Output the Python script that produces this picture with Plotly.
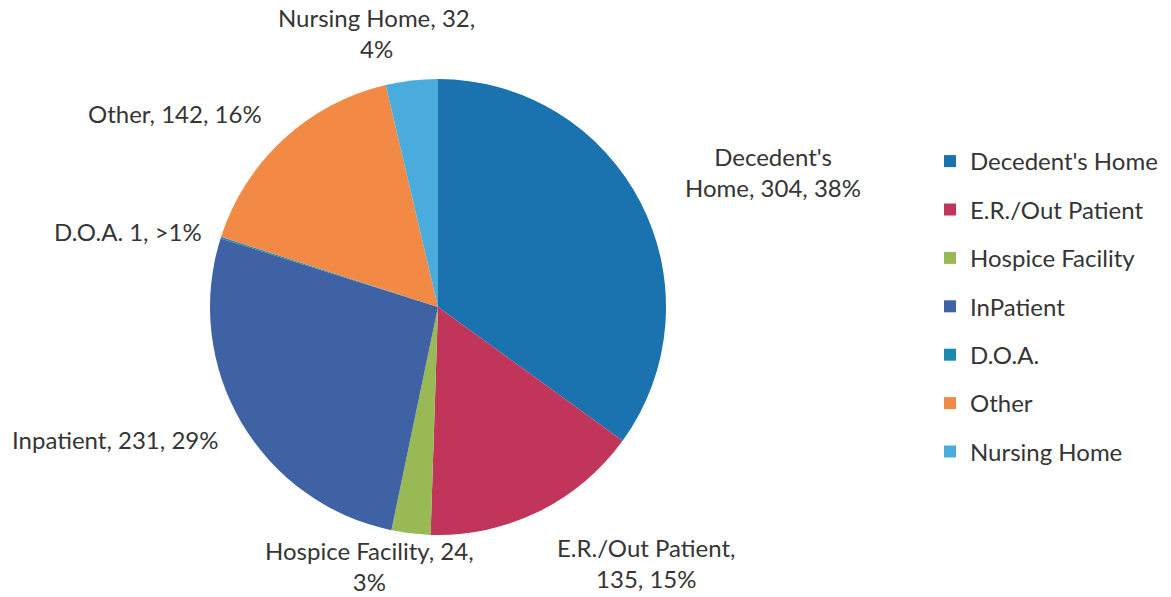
import math
import plotly.graph_objects as go

# ---- data ----
categories = ["Decedent's Home", "E.R./Out Patient", "Hospice Facility", "InPatient",
              "D.O.A.", "Other", "Nursing Home"]
values = [304, 135, 24, 231, 1, 142, 32]
label_names = ["Decedent's<br>Home", "E.R./Out Patient,<br>", "Hospice Facility, 24,<br>",
               "Inpatient", "D.O.A. 1", "Other", "Nursing Home, 32,<br>"]
label_values = ["304", "135", "", "231", "", "142", ""]
pct_labels = ["38%", "15%", "3%", "29%", ">1%", "16%", "4%"]
colors = ["#1A72AE", "#C1355A", "#98B954", "#3E62A4", "#1A8AAF", "#F28A45", "#4AACDD"]

W, H = 1171, 597
cx, cy, R = 438, 307, 228  # pie centre / radius in pixels

# label text composition
texts = []
for n, v, p in zip(label_names, label_values, pct_labels):
    if n.endswith("<br>"):
        texts.append(n + (v + ", " if v else "") + p)
    elif v:
        texts.append(n + ", " + v + ", " + p)
    else:
        texts.append(n + ", " + p)

# label placement: angle adjustment (deg) and radial distance (px) per slice
ang_adj = [5, -13, 8, 8, -4, -11, -6]
rad = [361, 330, 268, 349, 319, 326, 281]

FONT = "Lato"
TXT = "#353535"

fig = go.Figure()
fig.add_trace(go.Pie(
    labels=categories, values=values, sort=False, direction="clockwise",
    rotation=0, marker=dict(colors=colors, line=dict(width=0)),
    textinfo="none", hoverinfo="label+value+percent", showlegend=False,
    domain=dict(x=[(cx - R) / W, (cx + R) / W], y=[1 - (cy + R) / H, 1 - (cy - R) / H]),
))

total = sum(values)
cum = 0
annotations = []
for i, v in enumerate(values):
    mid = (cum + v / 2) / total * 360
    cum += v
    a = math.radians(mid + ang_adj[i])
    px = cx + rad[i] * math.sin(a)
    py = cy - rad[i] * math.cos(a)
    annotations.append(dict(
        x=px / W, y=1 - py / H, xref="paper", yref="paper", text=texts[i],
        showarrow=False, xanchor="center", yanchor="middle", align="center",
        font=dict(family=FONT, size=24, color=TXT),
    ))

# legend via placeholder traces
for name, c in zip(categories, colors):
    fig.add_trace(go.Scatter(
        x=[None], y=[None], mode="markers", name=name, legendgroup=name,
        marker=dict(symbol="square", size=12, color=c),
    ))

fig.update_layout(
    width=W, height=H, margin=dict(l=0, r=0, t=0, b=0),
    paper_bgcolor="white", plot_bgcolor="white",
    xaxis=dict(visible=False), yaxis=dict(visible=False),
    annotations=annotations,
    legend=dict(x=930 / W, y=1 - 139 / H, xanchor="left", yanchor="top",
                font=dict(family=FONT, size=24, color=TXT),
                tracegroupgap=14.2, itemwidth=30, traceorder="grouped",
                bgcolor="rgba(0,0,0,0)"),
    showlegend=True,
)
fig.write_html("out.html", config={"displayModeBar": False},
               post_script="document.body.style.margin='0px';")
